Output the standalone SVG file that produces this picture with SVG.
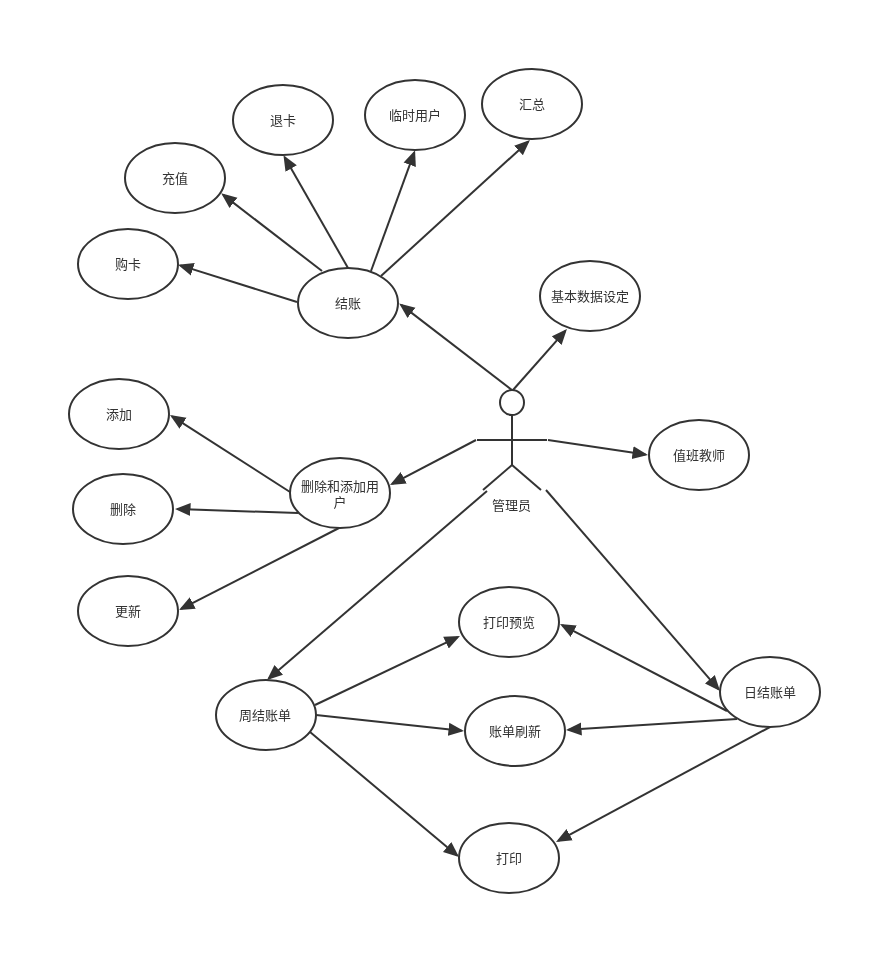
<svg xmlns="http://www.w3.org/2000/svg" width="882" height="955" viewBox="0 0 882 955">
<style>
.n ellipse{fill:#fff;stroke:#333;stroke-width:2}
text{font-family:"Noto Sans CJK SC","Noto Sans CJK JP",sans-serif;font-size:13px;font-weight:400;fill:#333;stroke:none;text-anchor:middle;filter:url(#g)}
.c line{stroke:#333;stroke-width:2;fill:none;marker-end:url(#a)}
.s line,.s ellipse{stroke:#333;stroke-width:2;fill:#fff}
</style>
<defs><filter id="g" x="-10%" y="-20%" width="120%" height="140%" color-interpolation-filters="sRGB"><feOffset dx="0" dy="0"/></filter><marker id="a" markerUnits="userSpaceOnUse" markerWidth="18" markerHeight="16" refX="13" refY="7" orient="auto"><path d="M0 .5L15.500 7L0 13.500Z" fill="#333"/></marker></defs>
<rect width="882" height="955" fill="#fff"/>
<g id="actor" class="s">
<ellipse cx="512" cy="402.500" rx="12" ry="12.500"/>
<line x1="512" y1="415" x2="512" y2="465"/>
<line x1="477" y1="440" x2="547" y2="440"/>
<line x1="512" y1="465" x2="483" y2="490"/>
<line x1="512" y1="465" x2="541" y2="490"/>
<text x="511.500" y="510">管理员</text>
</g>
<g id="n1" class="n"><ellipse cx="128" cy="264" rx="50" ry="35"/><text x="128" y="269">购卡</text></g>
<g id="n2" class="n"><ellipse cx="175" cy="178" rx="50" ry="35"/><text x="175" y="183">充值</text></g>
<g id="n3" class="n"><ellipse cx="283" cy="120" rx="50" ry="35"/><text x="283" y="125">退卡</text></g>
<g id="n4" class="n"><ellipse cx="415" cy="115" rx="50" ry="35"/><text x="415" y="120">临时用户</text></g>
<g id="n5" class="n"><ellipse cx="532" cy="104" rx="50" ry="35"/><text x="532" y="109">汇总</text></g>
<g id="n6" class="n"><ellipse cx="348" cy="303" rx="50" ry="35"/><text x="348" y="308">结账</text></g>
<g id="n7" class="n"><ellipse cx="590" cy="296" rx="50" ry="35"/><text x="590" y="301">基本数据设定</text></g>
<g id="n8" class="n"><ellipse cx="699" cy="455" rx="50" ry="35"/><text x="699" y="460">值班教师</text></g>
<g id="n9" class="n"><ellipse cx="119" cy="414" rx="50" ry="35"/><text x="119" y="419">添加</text></g>
<g id="n10" class="n"><ellipse cx="123" cy="509" rx="50" ry="35"/><text x="123" y="514">删除</text></g>
<g id="n11" class="n"><ellipse cx="128" cy="611" rx="50" ry="35"/><text x="128" y="616">更新</text></g>
<g id="n12" class="n"><ellipse cx="340" cy="493" rx="50" ry="35"/><text y="491"><tspan x="340">删除和添加用</tspan><tspan x="340" dy="16">户</tspan></text></g>
<g id="n13" class="n"><ellipse cx="509" cy="622" rx="50" ry="35"/><text x="509" y="627">打印预览</text></g>
<g id="n14" class="n"><ellipse cx="515" cy="731" rx="50" ry="35"/><text x="515" y="736">账单刷新</text></g>
<g id="n15" class="n"><ellipse cx="509" cy="858" rx="50" ry="35"/><text x="509" y="863">打印</text></g>
<g id="n16" class="n"><ellipse cx="266" cy="715" rx="50" ry="35"/><text x="265" y="720">周结账单</text></g>
<g id="n17" class="n"><ellipse cx="770" cy="692" rx="50" ry="35"/><text x="770" y="697">日结账单</text></g>
<g id="connectors" class="c">
<line x1="297" y1="302" x2="180.400" y2="265.400"/>
<line x1="322" y1="271" x2="223.200" y2="194.900"/>
<line x1="348" y1="268" x2="284.700" y2="157.300"/>
<line x1="371" y1="271" x2="414.200" y2="152.600"/>
<line x1="381" y1="276" x2="528.100" y2="141.700"/>
<line x1="512" y1="390" x2="401.200" y2="304.900"/>
<line x1="513" y1="390" x2="565.300" y2="330.900"/>
<line x1="548" y1="440" x2="645.500" y2="454.600"/>
<line x1="476" y1="440" x2="392.200" y2="483.800"/>
<line x1="290" y1="492" x2="172.100" y2="416.300"/>
<line x1="298" y1="513" x2="177.500" y2="509.100"/>
<line x1="339" y1="528" x2="181.200" y2="608.900"/>
<line x1="487" y1="491" x2="268.900" y2="678.400"/>
<line x1="546" y1="490" x2="718.400" y2="689.100"/>
<line x1="315" y1="705" x2="457.700" y2="637.100"/>
<line x1="316" y1="715" x2="461.500" y2="730.700"/>
<line x1="310" y1="732" x2="457.100" y2="855.400"/>
<line x1="727" y1="711" x2="562.200" y2="625.200"/>
<line x1="737" y1="719" x2="568.500" y2="729.800"/>
<line x1="770" y1="727" x2="558.200" y2="840.800"/>
</g>
</svg>
